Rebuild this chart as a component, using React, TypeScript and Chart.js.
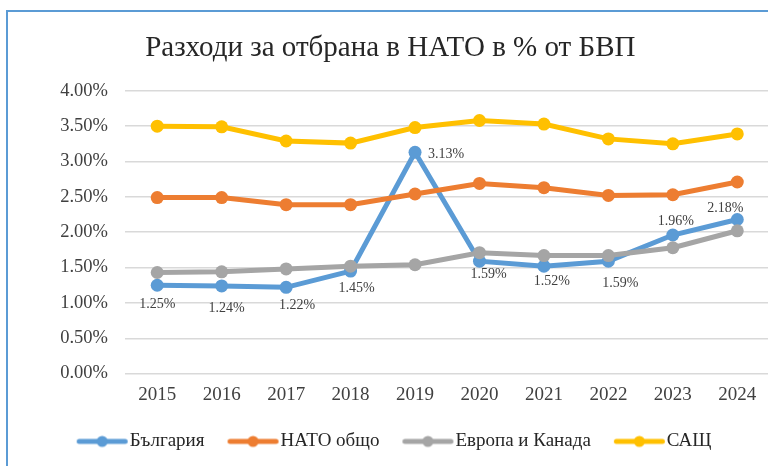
import React, { useEffect, useRef } from "react";
import { Chart, registerables } from "chart.js";

Chart.register(...registerables);

const years = ["2015", "2016", "2017", "2018", "2019", "2020", "2021", "2022", "2023", "2024"];
const bulgaria = [1.25, 1.24, 1.22, 1.45, 3.13, 1.59, 1.52, 1.59, 1.96, 2.18];
const natoTotal = [2.49, 2.49, 2.39, 2.39, 2.54, 2.69, 2.63, 2.52, 2.53, 2.71];
const europeCanada = [1.43, 1.44, 1.48, 1.52, 1.54, 1.71, 1.67, 1.67, 1.78, 2.02];
const usa = [3.5, 3.49, 3.29, 3.26, 3.48, 3.58, 3.53, 3.32, 3.25, 3.39];
const seriesNames = ["България", "НАТО общо", "Европа и Канада", "САЩ"];
const seriesColors = ["#5B9BD5", "#ED7D31", "#A5A5A5", "#FFC000"];
const titleText = "Разходи за отбрана в НАТО в % от БВП";

// label placement offsets for Bulgaria data labels (styling)
const labelOffsets: [number, number][] = [
  [0, 19], [5, 22], [11, 18], [6, 17], [31, 2], [9, 13], [8, 15], [12, 22], [3, -14], [-12, -11],
];

const SERIF = "'Liberation Serif', 'Times New Roman', serif";

function makeLegendIcon(color: string): HTMLCanvasElement {
  const c = document.createElement("canvas");
  c.width = 82;
  c.height = 14;
  const g = c.getContext("2d")!;
  g.strokeStyle = color;
  g.lineWidth = 5;
  g.lineCap = "round";
  g.beginPath();
  g.moveTo(25.5, 7);
  g.lineTo(71.5, 7);
  g.stroke();
  g.fillStyle = color;
  g.beginPath();
  g.arc(48.5, 7, 5.5, 0, Math.PI * 2);
  g.fill();
  return c;
}

const dataLabelPlugin = {
  id: "bgLabels",
  afterDatasetsDraw(chart: any) {
    const meta = chart.getDatasetMeta(0);
    const ctx = chart.ctx;
    ctx.save();
    ctx.font = `14px ${SERIF}`;
    ctx.fillStyle = "#404040";
    ctx.textAlign = "center";
    ctx.textBaseline = "middle";
    meta.data.forEach((pt: any, i: number) => {
      const [dx, dy] = labelOffsets[i];
      ctx.fillText(bulgaria[i].toFixed(2) + "%", pt.x + dx, pt.y + dy);
    });
    ctx.restore();
  },
};

export default function App() {
  const ref = useRef<HTMLCanvasElement>(null);

  useEffect(() => {
    if (!ref.current) return;
    const allData = [bulgaria, natoTotal, europeCanada, usa];
    const orders = [4, 3, 2, 1];
    const icons = seriesColors.map(makeLegendIcon);
    const chart = new Chart(ref.current, {
      type: "line",
      data: {
        labels: years,
        datasets: allData.map((d, i) => ({
          label: seriesNames[i],
          data: d,
          borderColor: seriesColors[i],
          backgroundColor: seriesColors[i],
          pointBackgroundColor: seriesColors[i],
          pointBorderColor: seriesColors[i],
          pointRadius: 6.5,
          pointBorderWidth: 0,
          borderWidth: 5,
          tension: 0,
          order: orders[i],
        })),
      },
      options: {
        responsive: false,
        animation: false,
        layout: { padding: { left: 0, right: 3.4, top: 0, bottom: 5.1 } },
        plugins: {
          tooltip: { enabled: false },
          title: {
            display: true,
            text: titleText,
            color: "#262626",
            font: { family: SERIF, size: 29, weight: "normal" },
            padding: { top: 19, bottom: 25 },
          },
          legend: {
            position: "bottom",
            labels: {
              usePointStyle: true,
              pointStyleWidth: 51,
              color: "#262626",
              font: { family: SERIF, size: 19 },
              padding: 15.5,
              sort: (a: any, b: any) => a.datasetIndex - b.datasetIndex,
              generateLabels: (chart: any) => {
                const items = Chart.defaults.plugins.legend.labels.generateLabels(chart);
                return items.map((it: any) => ({ ...it, pointStyle: icons[it.datasetIndex] }));
              },
            },
          },
        },
        scales: {
          x: {
            type: "category",
            offset: true,
            grid: { display: false, drawTicks: false },
            border: { display: false },
            ticks: {
              color: "#404040",
              font: { family: SERIF, size: 19 },
              padding: 10,
              maxRotation: 0,
            },
          },
          y: {
            min: 0,
            max: 4,
            afterFit: (s: any) => {
              s.width = 117;
            },
            grid: { color: "#D9D9D9", lineWidth: 1.5, drawTicks: false },
            border: { display: false },
            ticks: {
              stepSize: 0.5,
              padding: 17,
              color: "#404040",
              font: { family: SERIF, size: 18.5 },
              callback: (v: any) => Number(v).toFixed(2) + "%",
            },
          },
        },
      },
      plugins: [dataLabelPlugin],
    });
    return () => chart.destroy();
  }, []);

  return (
    <div
      style={{
        position: "fixed",
        left: 0,
        top: 0,
        width: 768,
        height: 466,
        overflow: "hidden",
        background: "#fff",
      }}
    >
      <div
        style={{
          position: "absolute",
          left: 6,
          top: 10,
          borderLeft: "2px solid #5B9BD5",
          borderTop: "2px solid #5B9BD5",
          width: 790,
          height: 470,
        }}
      >
        <canvas ref={ref} width={768} height={454} style={{ display: "block" }} />
      </div>
    </div>
  );
}
